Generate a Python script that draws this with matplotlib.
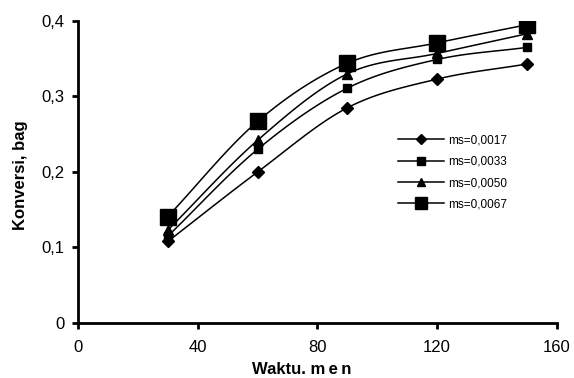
import matplotlib.pyplot as plt
import numpy as np

plt.rcParams['font.family'] = ['Liberation Sans', 'DejaVu Sans']

waktu = [30, 60, 90, 120, 150]
ms_0017 = [0.108, 0.200, 0.285, 0.323, 0.343]
ms_0033 = [0.115, 0.230, 0.311, 0.349, 0.365]
ms_0050 = [0.123, 0.242, 0.330, 0.357, 0.383]
ms_0067 = [0.141, 0.267, 0.344, 0.371, 0.395]
labels = ['ms=0,0017', 'ms=0,0033', 'ms=0,0050', 'ms=0,0067']


def smooth(x, y, n=30):
    # catmull-rom style curve like excel's smoothed line
    x = np.asarray(x, float)
    y = np.asarray(y, float)
    px = np.concatenate([[2*x[0] - x[1]], x, [2*x[-1] - x[-2]]])
    py = np.concatenate([[2*y[0] - y[1]], y, [2*y[-1] - y[-2]]])
    xs, ys = [], []
    t = np.linspace(0, 1, n)
    for i in range(1, len(px) - 2):
        for p, out in ((px, xs), (py, ys)):
            p0, p1, p2, p3 = p[i-1], p[i], p[i+1], p[i+2]
            out.extend(0.5*((2*p1) + (-p0 + p2)*t + (2*p0 - 5*p1 + 4*p2 - p3)*t**2
                            + (-p0 + 3*p1 - 3*p2 + p3)*t**3))
    return xs, ys


fig = plt.figure(figsize=(5.74, 3.78), dpi=100)
ax = fig.add_axes([0.136, 0.1455, 0.834, 0.799])

series = [ms_0017, ms_0033, ms_0050, ms_0067]
markers = [('D', 6.5), ('s', 6), ('^', 7), ('s', 11)]
for vals, lab, (m, s) in zip(series, labels, markers):
    sx, sy = smooth(waktu, vals)
    ax.plot(sx, sy, color='black', lw=1.1)
    ax.plot(waktu, vals, linestyle='none', marker=m, ms=s, color='black')
    ax.plot([], [], color='black', lw=1.1, marker=m, ms=s, label=lab)

ax.set_xlim(0, 160)
ax.set_ylim(0, 0.4)
ax.set_xticks([0, 40, 80, 120, 160])
ax.set_yticks([0, 0.1, 0.2, 0.3, 0.4])
ax.set_yticklabels(['0', '0,1', '0,2', '0,3', '0,4'])
ax.tick_params(direction='out', length=4.5, width=2, labelsize=12)
ax.tick_params(axis='x', pad=8)
ax.tick_params(axis='y', pad=5)
for side in ['top', 'right']:
    ax.spines[side].set_visible(False)
for side in ['left', 'bottom']:
    ax.spines[side].set_linewidth(2)

ax.set_xlabel('Waktu. m\u2009e\u2009n', fontsize=12, fontweight='bold')
ax.xaxis.set_label_coords(0.468, -0.13)
ax.set_ylabel('Konversi, bag', fontsize=12, fontweight='bold')
ax.yaxis.set_label_coords(-0.104, 0.49)

ax.legend(loc='upper left', bbox_to_anchor=(0.647, 0.66), frameon=False,
          fontsize=8.5, handlelength=3.9, handletextpad=0.35, labelspacing=0.8,
          markerscale=0.85)

fig.savefig('out.png', dpi=100)
